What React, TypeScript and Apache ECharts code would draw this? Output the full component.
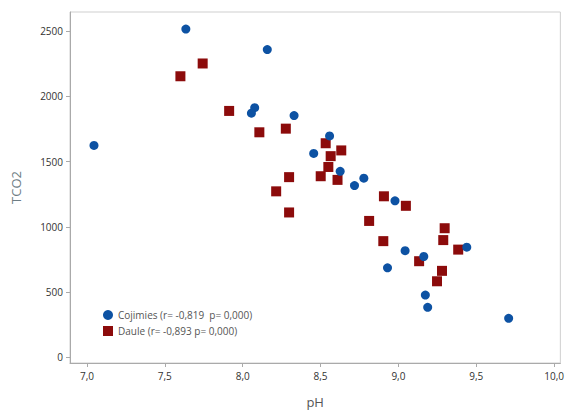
import React, { useEffect, useRef } from "react";
import * as echarts from "echarts";

const xTicks = [7, 7.5, 8, 8.5, 9, 9.5, 10];
const yTicks = [0, 500, 1000, 1500, 2000, 2500];

const cojimiesPH = [7.045, 7.635, 8.158, 8.077, 8.056, 8.33, 8.558, 8.456, 8.626, 8.718, 8.778, 8.978, 9.043, 9.439, 9.163, 8.93, 9.173, 9.188, 9.708];
const cojimiesTCO2 = [1624, 2517, 2360, 1914, 1872, 1853, 1697, 1563, 1426, 1316, 1373, 1199, 817, 844, 772, 685, 476, 382, 298];

const daulePH = [7.6, 7.743, 7.913, 8.107, 8.277, 8.533, 8.633, 8.565, 8.55, 8.501, 8.609, 8.298, 8.215, 8.298, 8.812, 8.907, 9.048, 9.297, 9.288, 8.903, 9.384, 9.133, 9.28, 9.248];
const dauleTCO2 = [2155, 2253, 1889, 1725, 1753, 1641, 1586, 1542, 1459, 1388, 1360, 1381, 1272, 1110, 1045, 1234, 1161, 989, 898, 890, 825, 736, 662, 582];

const seriesNames = ["Cojimies (r= -0,819  p= 0,000)", "Daule (r= -0,893 p= 0,000)"];
const axisNames = { x: "pH", y: "TCO2" };

const FONT = "'Open Sans', 'Noto Sans', sans-serif";

export default function App() {
  const ref = useRef<HTMLDivElement>(null);
  useEffect(() => {
    document.body.style.margin = "0";
    const chart = echarts.init(ref.current!, null, { renderer: "svg" });
    const pair = (xs: number[], ys: number[]) => xs.map((x, i) => [x, ys[i]]);
    chart.setOption({
      animation: false,
      backgroundColor: "#ffffff",
      textStyle: { fontFamily: FONT },
      grid: {
        left: 70,
        top: 12,
        width: 493,
        height: 355,
        show: true,
        borderColor: "#cfcfcf",
        borderWidth: 1,
      },
      legend: {
        orient: "vertical",
        left: 98,
        top: 305,
        itemWidth: 10,
        itemHeight: 10,
        itemGap: 6,
        textStyle: { fontSize: 10, color: "#555", fontFamily: FONT },
        data: seriesNames,
      },
      xAxis: {
        type: "value",
        min: 6.891,
        max: 10.04,
        name: axisNames.x,
        nameLocation: "middle",
        nameGap: 32,
        nameTextStyle: { fontSize: 13, color: "#555", fontFamily: FONT },
        axisLine: { show: true, onZero: false, lineStyle: { color: "#aaa" } },
        axisTick: { show: true, length: 4, customValues: xTicks, lineStyle: { color: "#aaa" } },
        axisLabel: {
          customValues: xTicks,
          margin: 8,
          fontSize: 10,
          color: "#333",
          fontFamily: FONT,
          formatter: (v: number) => v.toFixed(1).replace(".", ","),
        },
        splitLine: { show: false },
      },
      yAxis: {
        type: "value",
        min: -45,
        max: 2648,
        name: axisNames.y,
        nameLocation: "middle",
        nameGap: 48,
        nameTextStyle: { fontSize: 13, color: "#6d7d84", fontFamily: FONT },
        axisLine: { show: true, onZero: false, lineStyle: { color: "#aaa" } },
        axisTick: { show: true, length: 4, customValues: yTicks, lineStyle: { color: "#aaa" } },
        axisLabel: {
          customValues: yTicks,
          margin: 7,
          fontSize: 10,
          color: "#333",
          fontFamily: FONT,
          formatter: (v: number) => String(v),
        },
        splitLine: { show: false },
      },
      series: [
        {
          name: seriesNames[0],
          type: "scatter",
          symbol: "circle",
          symbolSize: 9,
          itemStyle: { color: "#0d52a3", opacity: 1 },
          data: pair(cojimiesPH, cojimiesTCO2),
          z: 3,
        },
        {
          name: seriesNames[1],
          type: "scatter",
          symbol: "rect",
          symbolSize: 10,
          itemStyle: { color: "#8c0b0b", opacity: 1 },
          data: pair(daulePH, dauleTCO2),
          z: 2,
        },
      ],
    });
    return () => chart.dispose();
  }, []);
  return <div ref={ref} style={{ width: 567, height: 413 }} />;
}
